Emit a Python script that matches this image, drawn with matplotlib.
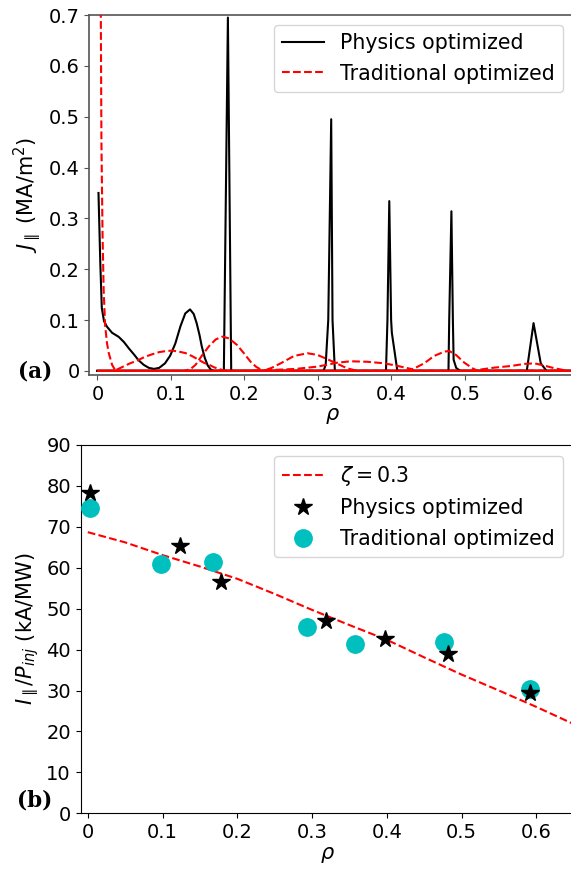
import matplotlib
matplotlib.use("Agg")
import matplotlib.pyplot as plt

# ---------------- Panel (a) data: J_parallel profiles ----------------
# Physics optimized (black solid), one curve per beam
phys_rho_1 = [0.0015, 0.004, 0.006, 0.009, 0.013, 0.020, 0.029, 0.036, 0.043, 0.050, 0.056, 0.063,
              0.070, 0.077, 0.084, 0.092, 0.099, 0.106, 0.113, 0.1195, 0.126, 0.131, 0.135, 0.139,
              0.142, 0.146, 0.150, 0.154, 0.158, 0.65]
phys_j_1 = [0.35, 0.21, 0.124, 0.098, 0.087, 0.075, 0.067, 0.057, 0.044, 0.032, 0.021, 0.012,
            0.006, 0.004, 0.006, 0.015, 0.030, 0.054, 0.088, 0.113, 0.121, 0.112, 0.094, 0.070,
            0.048, 0.026, 0.011, 0.003, 0.0, 0.0]
phys_rho_2 = [0.0, 0.172, 0.1775, 0.182, 0.65]
phys_j_2 = [0.0, 0.0, 0.695, 0.0, 0.0]
phys_rho_3 = [0.0, 0.3075, 0.3105, 0.314, 0.318, 0.3198, 0.323, 0.65]
phys_j_3 = [0.0, 0.0, 0.012, 0.10, 0.495, 0.10, 0.0, 0.0]
phys_rho_4 = [0.0, 0.3925, 0.3945, 0.397, 0.3995, 0.4005, 0.408, 0.65]
phys_j_4 = [0.0, 0.0, 0.10, 0.334, 0.10, 0.075, 0.0, 0.0]
phys_rho_5 = [0.0, 0.4775, 0.4785, 0.4815, 0.4835, 0.4845, 0.488, 0.4935, 0.65]
phys_j_5 = [0.0, 0.0, 0.10, 0.314, 0.10, 0.022, 0.006, 0.0, 0.0]
phys_rho_6 = [0.0, 0.584, 0.5932, 0.603, 0.611, 0.65]
phys_j_6 = [0.0, 0.0, 0.094, 0.015, 0.0, 0.0]

# Traditional optimized (red dashed), one curve per beam
trad_rho_1 = [0.0035, 0.0045, 0.0055, 0.007, 0.0085, 0.0105, 0.013, 0.0155, 0.020, 0.024, 0.027, 0.65]
trad_j_1 = [1.0, 0.75, 0.45, 0.27, 0.16, 0.09, 0.055, 0.035, 0.012, 0.002, 0.0, 0.0]
trad_rho_2 = [0.0, 0.022, 0.030, 0.043, 0.055, 0.065, 0.075, 0.084, 0.093, 0.1017, 0.111, 0.120,
              0.129, 0.138, 0.145, 0.152, 0.159, 0.165, 0.172, 0.180, 0.65]
trad_j_2 = [0.0, 0.0, 0.005, 0.014, 0.021, 0.028, 0.033, 0.037, 0.039, 0.040, 0.038, 0.035,
            0.029, 0.0216, 0.016, 0.012, 0.007, 0.004, 0.001, 0.0, 0.0]
trad_rho_3 = [0.0, 0.118, 0.127, 0.1335, 0.1426, 0.152, 0.161, 0.170, 0.179, 0.190, 0.198, 0.2084,
              0.216, 0.222, 0.229, 0.65]
trad_j_3 = [0.0, 0.0, 0.004, 0.012, 0.031, 0.049, 0.062, 0.0675, 0.064, 0.051, 0.037, 0.018,
            0.008, 0.003, 0.0, 0.0]
trad_rho_4 = [0.0, 0.225, 0.237, 0.2493, 0.2675, 0.2857, 0.2993, 0.313, 0.3266, 0.340, 0.354, 0.65]
trad_j_4 = [0.0, 0.0, 0.006, 0.015, 0.0295, 0.0348, 0.0315, 0.023, 0.0138, 0.005, 0.0, 0.0]
trad_rho_5 = [0.0, 0.20, 0.24, 0.27, 0.2993, 0.3266, 0.3447, 0.3674, 0.39, 0.408, 0.42, 0.4264, 0.433, 0.65]
trad_j_5 = [0.0, 0.0, 0.002, 0.004, 0.0085, 0.0163, 0.019, 0.018, 0.015, 0.010, 0.006, 0.004, 0.0, 0.0]
trad_rho_6 = [0.0, 0.42, 0.431, 0.4445, 0.458, 0.472, 0.4786, 0.4877, 0.499, 0.5105, 0.5173, 0.65]
trad_j_6 = [0.0, 0.0, 0.005, 0.015, 0.0295, 0.038, 0.0393, 0.0315, 0.0163, 0.005, 0.0, 0.0]
trad_rho_7 = [0.0, 0.505, 0.5173, 0.54, 0.563, 0.5808, 0.5944, 0.608, 0.6217, 0.64, 0.65]
trad_j_7 = [0.0, 0.0, 0.002, 0.0065, 0.0098, 0.0138, 0.015, 0.0104, 0.0053, 0.0, 0.0]

# ---------------- Panel (b) data: current drive efficiency ----------------
zeta_rho = [0.0, 0.05, 0.1, 0.15, 0.2, 0.25, 0.3, 0.35, 0.4, 0.45, 0.5, 0.55, 0.6, 0.65]
zeta_eff = [68.7, 66.2, 63.1, 60.3, 57.3, 53.6, 49.7, 46.0, 42.4, 38.1, 33.9, 30.0, 26.0, 21.8]
phys_pts_rho = [0.0027, 0.123, 0.178, 0.318, 0.397, 0.482, 0.592]
phys_pts_eff = [78.2, 65.3, 56.5, 47.0, 42.6, 38.9, 29.3]
trad_pts_rho = [0.0027, 0.098, 0.168, 0.293, 0.357, 0.477, 0.592]
trad_pts_eff = [74.5, 60.9, 61.5, 45.5, 41.3, 41.9, 30.4]

FS_TICK = 14
FS_LAB = 15
FS_LEG = 14.8

fig = plt.figure(figsize=(5.71, 8.69), dpi=100)

# ---------------- Panel (a) ----------------
W, H = 571.0, 869.0
axA = fig.add_axes([89.3 / W, (H - 375) / H, 486 / W, 360 / H])
phys = [(phys_rho_1, phys_j_1), (phys_rho_2, phys_j_2), (phys_rho_3, phys_j_3),
        (phys_rho_4, phys_j_4), (phys_rho_5, phys_j_5), (phys_rho_6, phys_j_6)]
trad = [(trad_rho_1, trad_j_1), (trad_rho_2, trad_j_2), (trad_rho_3, trad_j_3),
        (trad_rho_4, trad_j_4), (trad_rho_5, trad_j_5), (trad_rho_6, trad_j_6),
        (trad_rho_7, trad_j_7)]
for i, (r, j) in enumerate(phys):
    axA.plot(r, j, color='black', lw=1.5, label='Physics optimized' if i == 0 else None, zorder=2)
for i, (r, j) in enumerate(trad):
    off = i * 1.15
    axA.plot(r, j, color='red', lw=1.5, linestyle=(off, (3.7, 1.6)),
             label='Traditional optimized' if i == 0 else None, zorder=3)
axA.set_xlim(-0.011, 0.65)
axA.set_ylim(-0.008, 0.7)
axA.set_xticks([0, 0.1, 0.2, 0.3, 0.4, 0.5, 0.6])
axA.set_xticklabels(['0', '0.1', '0.2', '0.3', '0.4', '0.5', '0.6'])
axA.set_yticks([0, 0.1, 0.2, 0.3, 0.4, 0.5, 0.6, 0.7])
axA.set_yticklabels(['0', '0.1', '0.2', '0.3', '0.4', '0.5', '0.6', '0.7'])
axA.tick_params(labelsize=FS_TICK, color='#555555')
for s in axA.spines.values():
    s.set_color('#555555')
    s.set_linewidth(1.2)
axA.set_xlabel(r'$\rho$', fontsize=FS_LAB, labelpad=2)
axA.set_ylabel(r'$J_\parallel$ (MA/m$^2$)', fontsize=FS_LAB)
axA.legend(fontsize=FS_LEG, loc='upper right', bbox_to_anchor=(563 / W, 1 - 25 / H),
           bbox_transform=fig.transFigure, borderaxespad=0, handlelength=2.0)
fig.text(35 / W, 1 - 372 / H, '(a)', family='DejaVu Serif', fontweight='bold', fontsize=15.5,
         ha='center', va='center')

# ---------------- Panel (b) ----------------
axB = fig.add_axes([80.7 / W, (H - 813.3) / H, 493 / W, (813.3 - 445) / H])
axB.plot(zeta_rho, zeta_eff, color='red', lw=1.5, linestyle='--', label=r'$\zeta = 0.3$', zorder=2)
axB.plot(phys_pts_rho, phys_pts_eff, linestyle='none', marker='*', color='black', ms=13,
         label='Physics optimized', zorder=4)
axB.plot(trad_pts_rho, trad_pts_eff, linestyle='none', marker='o', color='c', ms=12.5,
         label='Traditional optimized', zorder=3)
axB.set_xlim(-0.0095, 0.65)
axB.set_ylim(0, 90)
axB.set_xticks([0, 0.1, 0.2, 0.3, 0.4, 0.5, 0.6])
axB.set_xticklabels(['0', '0.1', '0.2', '0.3', '0.4', '0.5', '0.6'])
axB.set_yticks(range(0, 91, 10))
axB.tick_params(labelsize=FS_TICK)
axB.set_xlabel(r'$\rho$', fontsize=FS_LAB, labelpad=2)
axB.set_ylabel(r'$I_\parallel/P_{inj}$ (kA/MW)', fontsize=FS_LAB)
axB.legend(fontsize=FS_LEG, loc='upper right', bbox_to_anchor=(563 / W, 1 - 456 / H),
           bbox_transform=fig.transFigure, borderaxespad=0, handlelength=2.0)
fig.text(35 / W, 1 - 800 / H, '(b)', family='DejaVu Serif', fontweight='bold', fontsize=15.5,
         ha='center', va='center')

fig.savefig('out.png', dpi=100)
